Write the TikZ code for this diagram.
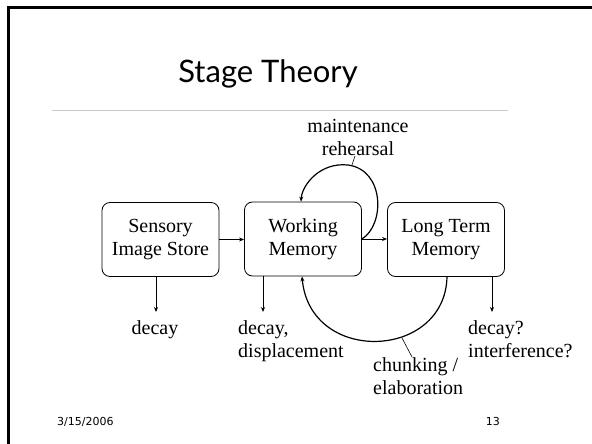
\documentclass[tikz,border=0pt]{standalone}
\usepackage{fontspec}
\setmainfont{Liberation Serif}
\newfontfamily\titlefont{Lato}
\newfontfamily\footfont{DejaVu Sans}
\usetikzlibrary{arrows.meta}
\begin{document}
\begin{tikzpicture}[x=1pt,y=-1pt,
  box/.style={draw, rounded corners=8pt, minimum width=117pt, minimum height=74pt, align=center,
    font=\fontsize{20}{23}\selectfont, inner sep=0pt, line width=0.8pt},
  lbl/.style={font=\fontsize{20}{23}\selectfont, inner sep=0pt},
  arr/.style={-{Stealth[length=5pt,width=4pt]}, line width=0.8pt},
  loopline/.style={line width=1.2pt, -{Stealth[length=5pt,width=4pt]}},
  pointer/.style={line width=0.6pt},
  foot/.style={font=\footfont\fontsize{11}{13}\selectfont, inner sep=0pt}
]
\useasboundingbox (0,0) rectangle (592,444);
\fill[white] (0,0) rectangle (592,444);
\draw[line width=3pt] (8.5,444) -- (8.5,7.5) -- (592,7.5);
\draw[black!22, line width=1pt] (52,110) -- (508,110);
\node[font=\titlefont\fontsize{31}{36}\selectfont, anchor=base, inner sep=0pt] (title) at (268,83) {Stage Theory};

\node[box] (S) at (160.5,239.5) {Sensory\\Image Store};
\node[box] (W) at (303,239) {Working\\Memory};
\node[box] (L) at (446,239.5) {Long Term\\Memory};

\draw[arr] (S.east) -- (S.east -| W.west);
\draw[arr] (W.east) -- (W.east -| L.west);

% down arrows and labels
\node[lbl, anchor=north] (sd) at (155,320) {decay};
\node[lbl, anchor=north west, align=left] (wd) at (238,320) {decay,\\displacement};
\node[lbl, anchor=north west, align=left] (ld) at (468,320) {decay?\\interference?};
\coordinate (sa) at (156,312);
\coordinate (wa) at (263,312);
\coordinate (la) at (492,312);
\draw[arr] (S.south -| sa) -- (sa);
\draw[arr] (W.south -| wa) -- (wa);
\draw[arr] (L.south -| la) -- (la);

% maintenance rehearsal loop
\node[lbl, anchor=south, align=center] (mr) at (358,156) {maintenance\\rehearsal};
\coordinate (wt) at (301,0);
\coordinate (mtop) at (348,165);
\draw[loopline] (W.east) .. controls (385,225) and (385,170) .. (mtop)
  .. controls (320,162) and (302,185) .. (W.north -| wt);
\coordinate (mp) at (352,165);
\draw[pointer] (mp) -- (mr.south -| 355,0);

% chunking / elaboration loop
\node[lbl, anchor=north west, align=left] (ce) at (373,357) {chunking /\\elaboration};
\coordinate (lb) at (447,0);
\coordinate (wb) at (302,0);
\draw[loopline] (L.south -| lb) .. controls (445,360) and (310,365) .. (W.south -| wb);
\coordinate (cp) at (402,338);
\draw[pointer] (cp) -- (ce.north -| 412,0);

% footer
\node[foot, anchor=base west] (date) at (57,425) {3/15/2006};
\node[foot, anchor=base east] (pg) at (500,425) {13};
\end{tikzpicture}
\end{document}
